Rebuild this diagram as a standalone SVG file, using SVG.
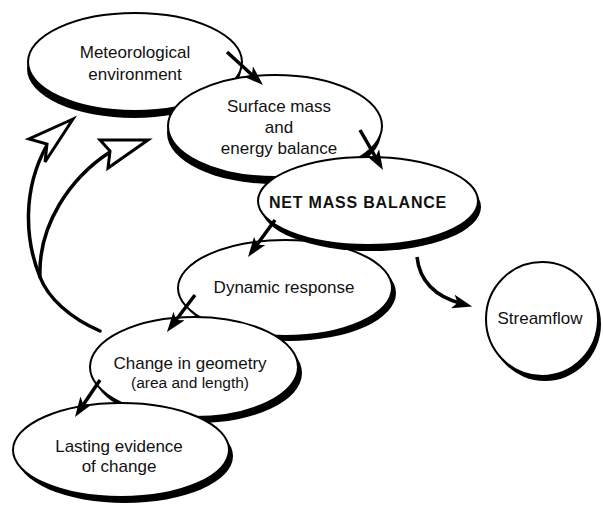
<svg xmlns="http://www.w3.org/2000/svg" width="603" height="506" viewBox="0 0 603 506">
<style>
.sh{fill:#000}
.el{fill:#fff;stroke:#000;stroke-width:2}
.t{font-family:"Liberation Sans",Arial,sans-serif;font-size:17px;fill:#111;text-anchor:middle}
.s{font-size:15.5px}
.b{font-weight:bold;font-size:16px;letter-spacing:0.8px}
.fw{stroke:#000;stroke-width:3.5;fill:none}
.fb{stroke:#000;stroke-width:3.5;fill:none;stroke-linecap:round}
.oh{fill:#fff;stroke:#000;stroke-width:3;stroke-linejoin:miter}
</style>
<defs>
<marker id="ah" viewBox="0 0 20 14" refX="10" refY="7" markerWidth="20" markerHeight="14" orient="auto" markerUnits="userSpaceOnUse">
<path d="M0,0 L20,7 L0,14 L5,7 Z" fill="#000"/>
</marker>
</defs>
<rect width="603" height="506" fill="#fff"/>
<g id="met">
<ellipse class="sh" cx="134" cy="69" rx="107" ry="49"/>
<ellipse class="el" cx="135" cy="62" rx="107" ry="49"/>
<text class="t" x="135" y="58">Meteorological</text>
<text class="t" x="135" y="80">environment</text>
</g>
<g id="surf">
<ellipse class="sh" cx="274" cy="133" rx="107" ry="51"/>
<ellipse class="el" cx="275" cy="126" rx="107" ry="51"/>
<text class="t" x="279" y="112">Surface mass</text>
<text class="t" x="279" y="133">and</text>
<text class="t" x="279" y="154">energy balance</text>
</g>
<g id="dyn">
<ellipse class="sh" cx="289" cy="293" rx="107" ry="48"/>
<ellipse class="el" cx="285" cy="288" rx="107" ry="48"/>
<text class="t" x="284" y="293">Dynamic response</text>
</g>
<g id="net">
<ellipse class="sh" cx="371" cy="207" rx="110" ry="44"/>
<ellipse class="el" cx="368" cy="201" rx="110" ry="44"/>
<text class="t b" x="358" y="208">NET MASS BALANCE</text>
</g>
<g id="chg">
<ellipse class="sh" cx="198" cy="373" rx="104" ry="50"/>
<ellipse class="el" cx="194" cy="367" rx="104" ry="50"/>
<text class="t" x="190" y="369">Change in geometry</text>
<text class="t s" x="190" y="388">(area and length)</text>
</g>
<g id="last">
<ellipse class="sh" cx="125" cy="456" rx="108" ry="47"/>
<ellipse class="el" cx="121" cy="450" rx="108" ry="47"/>
<text class="t" x="119" y="452">Lasting evidence</text>
<text class="t" x="119" y="472">of change</text>
</g>
<g id="stream">
<ellipse class="sh" cx="545" cy="324" rx="56" ry="57"/>
<ellipse class="el" cx="542" cy="319" rx="56" ry="57"/>
<text class="t" x="540" y="324">Streamflow</text>
</g>
<g id="connectors">
<line class="fw" x1="227" y1="52" x2="255.6" y2="78.2" marker-end="url(#ah)"/>
<line class="fw" x1="360" y1="130" x2="378" y2="161.3" marker-end="url(#ah)"/>
<line class="fw" x1="275" y1="220" x2="253.9" y2="248.9" marker-end="url(#ah)"/>
<line class="fw" x1="195" y1="295" x2="173" y2="324" marker-end="url(#ah)"/>
<line class="fw" x1="100" y1="380" x2="80.6" y2="408.7" marker-end="url(#ah)"/>
<path class="fw" d="M417,257 C420,285 440,298 462.5,304" marker-end="url(#ah)"/>
<path class="fb" d="M100,331 C70,318 48,298 40,277 C25,240 22,190 47,145"/>
<path class="fb" d="M40,277 C38,225 70,178 110,152"/>
<polygon class="oh" points="73,119 29,139 47,144 45,162"/>
<polygon class="oh" points="148,140 100,140 110,151 108,168"/>
</g>
</svg>
